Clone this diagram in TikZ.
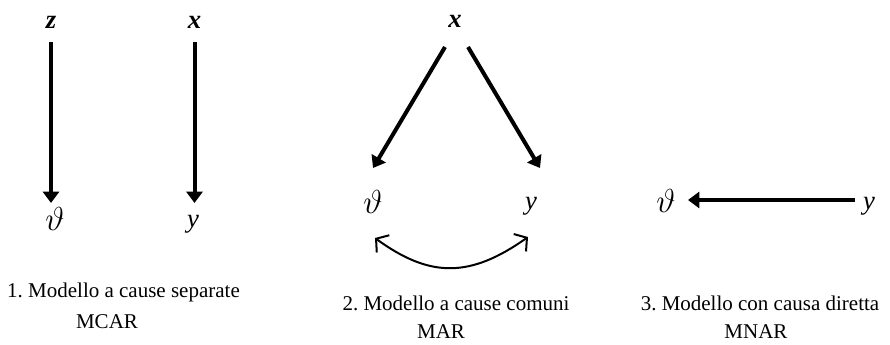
\documentclass[tikz,border=0pt]{standalone}
\usepackage{fontspec}
\setmainfont{Liberation Serif}
\frenchspacing
\usetikzlibrary{arrows.meta,calc}
\tikzset{
  var/.style={inner sep=0pt, anchor=base, font=\fontsize{20pt}{24pt}\selectfont},
  theta/.style={inner sep=0pt, anchor=base, font=\fontsize{26pt}{30pt}\selectfont},
  captext/.style={inner sep=0pt, anchor=base, font=\fontsize{15.75pt}{19pt}\selectfont},
  arr/.style={line width=3pt, -{Triangle[length=8.5pt,width=12pt]}},
  barb/.style={line width=1.5pt, {Straight Barb[length=6.5pt,width=16pt]}-{Straight Barb[length=6.5pt,width=16pt]}}
}
\begin{document}
\begin{tikzpicture}[x=0.75pt,y=-0.75pt]
\useasboundingbox[fill=white] (0,0) rectangle (890,344);
% panel 1
\node[var] (z)  at (51,28)   {\textbf{\textit{z}}};
\node[var] (x1) at (194.5,28) {\textbf{\textit{x}}};
\node[theta] (t1) at (55,230)  {$\vartheta$};
\node[var] (y1) at (193,227) {\textit{y}};
\draw[arr] ($(z.base)+(0,14)$) -- ($(t1.base)+(-4,-27)$);
\draw[arr] ($(x1.base)+(0,14)$) -- ($(y1.base)+(1.5,-24)$);
\node[captext] (c1) at (123.5,297) {1. Modello a cause separate};
\node[captext] (m1) at (107,328) {MCAR};
% panel 2
\node[var] (x2) at (455,27)  {\textbf{\textit{x}}};
\node[theta] (t2) at (373,213) {$\vartheta$};
\node[var] (y2) at (531,209) {\textit{y}};
\draw[arr] ($(x2.base)+(-10,20)$) -- ($(t2.base)+(0,-45)$);
\draw[arr] ($(x2.base)+(13,20)$) -- ($(y2.base)+(9,-41)$);
\draw[barb] ($(t2.base)+(2,25)$) .. controls +(55,40) and +(-58,41) .. ($(y2.base)+(-3,28)$);
\node[captext] (c2) at (456,310) {2. Modello a cause comuni};
\node[captext] (m2) at (441,338) {MAR};
% panel 3
\node[theta] (t3) at (666,212) {$\vartheta$};
\node[var] (y3) at (869,209) {\textit{y}};
\draw[arr] ($(y3.base)+(-14,-9)$) -- ($(t3.base)+(22,-12)$);
\node[captext] (c3) at (760,310) {3. Modello con causa diretta};
\node[captext] (m3) at (756,338) {MNAR};
\end{tikzpicture}
\end{document}
